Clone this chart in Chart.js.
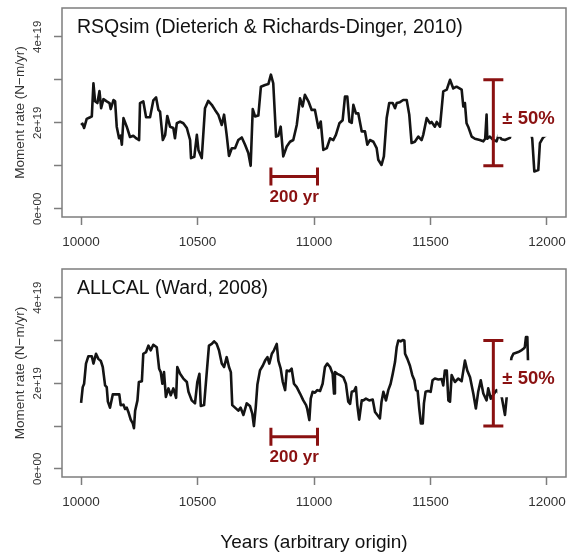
<!DOCTYPE html>
<html>
<head>
<meta charset="utf-8">
<title>Moment rate</title>
<script src="https://cdn.jsdelivr.net/npm/chart.js@4.4.1/dist/chart.umd.min.js"></script>
<style>
  body { margin: 0; background: #fff; }
  #wrap { position: relative; width: 568px; height: 555px; }
  canvas { position: absolute; left: 0; }
  #rsqsimChart { top: 0; }
  #allcalChart { top: 260px; }
</style>
</head>
<body>
<div id="wrap">
  <canvas id="rsqsimChart" width="568" height="260"></canvas>
  <canvas id="allcalChart" width="568" height="295"></canvas>
</div>
<script>
// Moment rate series, values in units of 1e19 N-m/yr
const RATE_UNIT = 1e19;

// RSQsim catalogue
const rsqsimYears = [
  10000, 10006, 10013, 10024, 10039, 10046, 10053, 10060, 10070, 10079,
  10086, 10096, 10110, 10122, 10127, 10139, 10146, 10153, 10163, 10170,
  10175, 10182, 10196, 10210, 10224, 10239, 10249, 10253, 10267, 10279,
  10296, 10310, 10322, 10332, 10339, 10351, 10361, 10370, 10382, 10396,
  10403, 10411, 10425, 10439, 10454, 10468, 10472, 10486, 10497, 10504,
  10518, 10532, 10546, 10561, 10575, 10589, 10604, 10614, 10625, 10635,
  10647, 10661, 10675, 10690, 10704, 10718, 10728, 10737, 10747, 10761,
  10772, 10790, 10804, 10815, 10825, 10837, 10847, 10857, 10868, 10883,
  10897, 10911, 10926, 10940, 10951, 10961, 10976, 10990, 11004, 11019,
  11029, 11040, 11055, 11069, 11083, 11094, 11109, 11123, 11133, 11143,
  11152, 11162, 11169, 11180, 11190, 11205, 11219, 11229, 11240, 11255,
  11269, 11276, 11290, 11300, 11312, 11323, 11338, 11348, 11355, 11369,
  11383, 11398, 11409, 11419, 11433, 11448, 11462, 11469, 11484, 11498,
  11505, 11519, 11527, 11541, 11555, 11570, 11584, 11598, 11612, 11634,
  11641, 11648, 11655, 11662, 11677, 11691, 11712, 11727, 11735, 11741,
  11744, 11755, 11770, 11784, 11792, 11805, 11820, 11841, 11860, 11900,
  11925, 11937, 11946, 11963, 11970, 11984, 11998
];
const rsqsimRate = [
  1.95, 1.98, 1.88, 2.09, 2.13, 2.15, 2.92, 2.50, 2.46, 2.74,
  2.34, 2.55, 2.50, 2.46, 2.32, 2.53, 2.50, 1.91, 1.64, 1.70,
  1.49, 2.11, 1.91, 1.67, 1.70, 1.63, 1.60, 2.46, 2.50, 2.13,
  2.13, 2.52, 2.59, 2.30, 2.26, 1.60, 1.72, 2.16, 1.91, 1.88,
  1.64, 1.99, 2.03, 1.99, 1.88, 1.60, 1.18, 1.21, 1.72, 1.36,
  1.18, 2.34, 2.51, 2.42, 2.30, 2.19, 1.95, 2.19, 1.72, 1.23,
  1.41, 1.41, 1.60, 1.66, 1.49, 1.30, 1.00, 2.32, 2.15, 2.17,
  2.84, 2.88, 2.90, 3.12, 2.92, 1.68, 1.70, 1.91, 1.22, 1.45,
  1.56, 1.60, 1.95, 2.57, 2.38, 2.65, 2.50, 2.30, 2.30, 1.88,
  2.03, 1.37, 1.41, 1.64, 1.60, 1.72, 1.99, 2.06, 2.61, 2.61,
  2.03, 2.00, 2.42, 2.22, 2.22, 1.80, 1.80, 1.49, 1.60, 1.56,
  1.41, 1.14, 1.02, 1.22, 2.11, 2.46, 2.46, 2.34, 2.46, 2.48,
  2.53, 2.53, 2.19, 1.53, 1.56, 1.68, 1.60, 1.72, 2.11, 1.99,
  2.02, 1.91, 2.02, 1.91, 2.73, 2.77, 3.00, 2.80, 2.84, 2.77,
  2.38, 2.46, 1.99, 1.91, 1.68, 1.63, 1.60, 1.57, 1.63, 2.19,
  1.63, 1.68, 1.60, 1.57, 1.71, 1.62, 1.60, 1.65, 2.00, 2.10,
  1.95, 1.63, 0.87, 0.90, 1.53, 1.66, 1.72
];

// ALLCAL catalogue
const allcalYears = [
  10000, 10007, 10013, 10021, 10031, 10046, 10053, 10064, 10074, 10085,
  10093, 10103, 10110, 10115, 10124, 10136, 10153, 10164, 10170, 10182,
  10189, 10196, 10203, 10213, 10222, 10227, 10232, 10242, 10248, 10261,
  10267, 10279, 10289, 10299, 10310, 10325, 10335, 10342, 10349, 10356,
  10364, 10375, 10385, 10396, 10408, 10413, 10425, 10439, 10454, 10461,
  10475, 10489, 10499, 10508, 10514, 10528, 10539, 10549, 10561, 10571,
  10582, 10592, 10604, 10614, 10625, 10635, 10643, 10649, 10661, 10675,
  10685, 10697, 10711, 10725, 10735, 10742, 10750, 10757, 10768, 10780,
  10790, 10800, 10808, 10819, 10828, 10840, 10847, 10857, 10866, 10876,
  10883, 10894, 10904, 10914, 10926, 10940, 10954, 10966, 10971, 10980,
  10986, 10994, 11004, 11014, 11026, 11037, 11047, 11057, 11069, 11080,
  11086, 11090, 11100, 11112, 11126, 11137, 11147, 11155, 11162, 11172,
  11180, 11186, 11194, 11205, 11212, 11223, 11237, 11252, 11262, 11272,
  11283, 11290, 11298, 11309, 11319, 11329, 11338, 11348, 11355, 11362,
  11372, 11381, 11388, 11391, 11401, 11412, 11422, 11431, 11438, 11445,
  11452, 11459, 11467, 11472, 11479, 11490, 11501, 11509, 11519, 11534,
  11548, 11555, 11562, 11570, 11577, 11584, 11591, 11605, 11619, 11634,
  11648, 11658, 11670, 11684, 11695, 11705, 11716, 11727, 11741, 11748,
  11759, 11772, 11784, 11806, 11820, 11835, 11848, 11856, 11877, 11890,
  11898, 11905, 11910, 11916, 11920, 11940, 11970, 12000
];
const allcalRate = [
  1.54, 1.91, 1.99, 2.46, 2.63, 2.63, 2.46, 2.69, 2.57, 2.52,
  2.38, 1.95, 1.91, 1.57, 1.43, 1.74, 1.74, 1.74, 1.49, 1.50,
  1.40, 1.43, 1.33, 1.15, 1.06, 0.95, 1.36, 1.60, 2.03, 2.05,
  2.69, 2.73, 2.88, 2.77, 2.90, 2.84, 2.34, 2.26, 1.99, 2.26,
  1.68, 1.88, 1.72, 1.88, 1.66, 2.38, 2.22, 2.11, 2.03, 1.80,
  1.60, 1.53, 2.03, 2.22, 1.47, 1.49, 2.22, 2.88, 2.92, 2.98,
  2.92, 2.77, 2.46, 2.38, 2.61, 2.38, 2.26, 1.49, 1.43, 1.36,
  1.43, 1.26, 1.53, 1.47, 1.29, 1.00, 1.45, 1.97, 2.30, 2.41,
  2.53, 2.61, 2.46, 2.69, 2.77, 2.92, 2.53, 2.34, 2.03, 1.84,
  2.30, 2.28, 2.34, 1.99, 1.91, 1.76, 1.60, 1.49, 1.40, 1.14,
  1.64, 1.80, 1.78, 1.84, 1.82, 1.99, 2.38, 2.46, 2.38, 2.22,
  1.76, 2.26, 2.22, 2.19, 2.14, 1.99, 1.57, 1.52, 1.80, 1.82,
  1.91, 1.49, 1.15, 1.60, 1.60, 1.64, 1.60, 1.62, 1.33, 1.26,
  1.18, 1.57, 1.80, 1.60, 1.84, 1.99, 2.22, 2.50, 2.84, 3.00,
  2.98, 3.01, 3.00, 2.69, 2.57, 2.41, 2.19, 2.07, 1.84, 1.82,
  1.40, 1.06, 1.06, 1.53, 1.80, 1.82, 1.80, 2.07, 2.11, 2.09,
  2.10, 1.95, 2.30, 2.30, 1.60, 1.57, 2.19, 2.03, 2.11, 2.05,
  2.53, 2.30, 2.14, 1.76, 1.41, 1.80, 2.07, 1.76, 1.60, 1.88,
  1.64, 1.75, 1.84, 1.68, 1.26, 2.10, 2.60, 2.69, 2.73, 2.77,
  2.80, 2.84, 3.08, 3.08, 2.30, 2.20, 2.10, 2.15
];

// axis ticks
const yearTicks = [10000, 10500, 11000, 11500, 12000];
const rateTicks = [0, 1e19, 2e19, 3e19, 4e19];
const rateLabels = ["0e+00", "", "2e+19", "", "4e+19"];

// annotation values: time scale bar and +/- 50% range bar
const scaleBarStart = 10815;
const scaleBarLength = 200;
const scaleBarLevel = 0.75e19;
const rangeBarYear = 11770;
const rangeBarCenter = 2e19;
const rangeBarFraction = 0.5;

const FONT = '"Liberation Sans", Arial, Helvetica, sans-serif';
const RED = "#8a1111";
const AXIS_GRAY = "#7d7d7d";

Chart.defaults.font.family = FONT;

// frame, panel title and the red annotations
function panelDecor(title) {
  return {
    id: "panelDecor",
    afterDatasetsDraw(chart) {
      const { ctx, chartArea: area } = chart;
      const x = chart.scales.x;
      const y = chart.scales.y;
      ctx.save();

      ctx.strokeStyle = AXIS_GRAY;
      ctx.lineWidth = 1.5;
      ctx.strokeRect(area.left, area.top, area.right - area.left, area.bottom - area.top);

      ctx.fillStyle = "#111";
      ctx.font = "19.5px " + FONT;
      ctx.textAlign = "left";
      ctx.textBaseline = "alphabetic";
      ctx.fillText(title, area.left + 15, area.top + 25);

      // 200 yr bar
      const bx0 = x.getPixelForValue(scaleBarStart);
      const bx1 = x.getPixelForValue(scaleBarStart + scaleBarLength);
      const by = y.getPixelForValue(scaleBarLevel);
      ctx.strokeStyle = RED;
      ctx.lineWidth = 3;
      ctx.beginPath();
      ctx.moveTo(bx0, by);
      ctx.lineTo(bx1, by);
      ctx.moveTo(bx0, by - 9);
      ctx.lineTo(bx0, by + 9);
      ctx.moveTo(bx1, by - 9);
      ctx.lineTo(bx1, by + 9);
      ctx.stroke();
      ctx.fillStyle = RED;
      ctx.font = "bold 17px " + FONT;
      ctx.textAlign = "center";
      ctx.fillText(scaleBarLength + " yr", (bx0 + bx1) / 2, by + 25);

      // +/- 50% bar with its label on a white backing
      const ex = x.getPixelForValue(rangeBarYear);
      const eyLow = y.getPixelForValue(rangeBarCenter * (1 - rangeBarFraction));
      const eyHigh = y.getPixelForValue(rangeBarCenter * (1 + rangeBarFraction));
      const eyMid = y.getPixelForValue(rangeBarCenter);
      ctx.fillStyle = "#fff";
      ctx.fillRect(ex + 4, eyMid - 23, 52, 37);
      ctx.beginPath();
      ctx.moveTo(ex, eyLow);
      ctx.lineTo(ex, eyHigh);
      ctx.moveTo(ex - 10, eyLow);
      ctx.lineTo(ex + 10, eyLow);
      ctx.moveTo(ex - 10, eyHigh);
      ctx.lineTo(ex + 10, eyHigh);
      ctx.stroke();
      ctx.fillStyle = RED;
      ctx.font = "bold 18.5px " + FONT;
      ctx.textAlign = "left";
      ctx.textBaseline = "middle";
      ctx.fillText("\u00b1 " + rangeBarFraction * 100 + "%", ex + 9, eyMid - 4);

      ctx.restore();
    },
  };
}

function buildChart(canvasId, years, rate, title, opts) {
  const points = years.map((yr, i) => ({ x: yr, y: rate[i] * RATE_UNIT }));
  return new Chart(document.getElementById(canvasId), {
    type: "line",
    data: {
      datasets: [
        {
          data: points,
          borderColor: "#141414",
          borderWidth: 2.6,
          borderJoinStyle: "round",
          pointRadius: 0,
          tension: 0,
          fill: false,
        },
      ],
    },
    options: {
      responsive: false,
      animation: false,
      devicePixelRatio: 1,
      layout: { padding: { top: opts.top, right: 2, left: 0, bottom: 0 } },
      plugins: { legend: { display: false }, tooltip: { enabled: false } },
      scales: {
        x: {
          type: "linear",
          min: 9918,
          max: 12082,
          afterBuildTicks: (s) => {
            s.ticks = yearTicks.map((v) => ({ value: v }));
          },
          afterFit: (s) => {
            s.height = opts.xHeight;
            s.paddingLeft = 0;
            s.paddingRight = 0;
          },
          ticks: {
            autoSkip: false,
            maxRotation: 0,
            padding: 9,
            color: "#333",
            font: { size: 13.5 },
            callback: (v) => String(v),
          },
          grid: {
            drawOnChartArea: false,
            tickLength: 8,
            color: AXIS_GRAY,
            tickWidth: 1.5,
          },
          border: { display: false },
          title: {
            display: opts.xTitle,
            text: "Years (arbitrary origin)",
            color: "#111",
            font: { size: 19 },
            padding: { top: 0, bottom: 1 },
          },
        },
        y: {
          type: "linear",
          min: -0.19e19,
          max: 4.67e19,
          afterBuildTicks: (s) => {
            s.ticks = rateTicks.map((v) => ({ value: v }));
          },
          afterFit: (s) => {
            s.width = 62;
            s.paddingTop = 0;
            s.paddingBottom = 0;
          },
          ticks: {
            minRotation: 90,
            maxRotation: 90,
            crossAlign: "center",
            padding: 0,
            color: "#333",
            font: { size: 11.5 },
            callback: (v, i) => rateLabels[i],
          },
          grid: {
            drawOnChartArea: false,
            tickLength: 8,
            color: AXIS_GRAY,
            tickWidth: 1.5,
          },
          border: { display: false },
          title: {
            display: true,
            text: "Moment rate (N\u2212m/yr)",
            color: "#333",
            font: { size: 13.5 },
            padding: { top: 12, bottom: 0 },
          },
        },
      },
    },
    plugins: [panelDecor(title)],
  });
}

buildChart("rsqsimChart", rsqsimYears, rsqsimRate, "RSQsim (Dieterich & Richards-Dinger, 2010)", {
  top: 8,
  xHeight: 43,
  xTitle: false,
});
buildChart("allcalChart", allcalYears, allcalRate, "ALLCAL (Ward, 2008)", {
  top: 9,
  xHeight: 78,
  xTitle: true,
});
</script>
</body>
</html>
